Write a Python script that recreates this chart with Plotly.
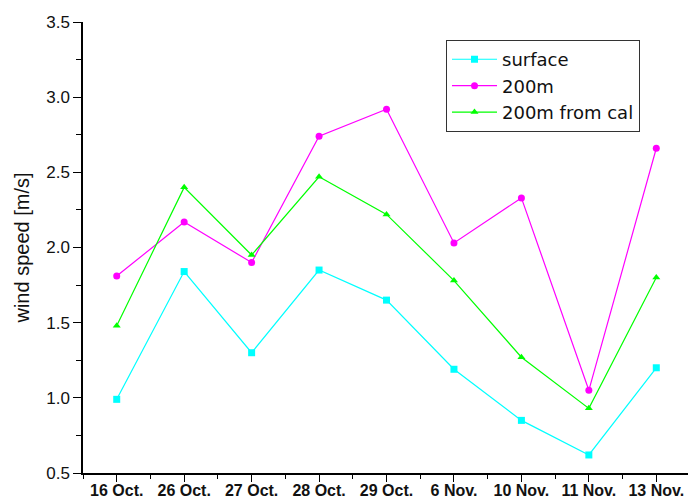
import plotly.graph_objects as go

categories = ["16 Oct.", "26 Oct.", "27 Oct.", "28 Oct.", "29 Oct.", "6 Nov.", "10 Nov.", "11 Nov.", "13 Nov."]
surface = [0.99, 1.84, 1.30, 1.85, 1.65, 1.19, 0.85, 0.62, 1.20]
m200 = [1.81, 2.17, 1.90, 2.74, 2.92, 2.03, 2.33, 1.05, 2.66]
m200_cal = [1.48, 2.40, 1.95, 2.47, 2.22, 1.78, 1.27, 0.93, 1.80]
y_ticks = [0.5, 1.0, 1.5, 2.0, 2.5, 3.0, 3.5]

xs = list(range(len(categories)))
FONT = "Liberation Sans, Arial, sans-serif"
LFONT = "DejaVu Sans, sans-serif"

fig = go.Figure()
series = [
    ("surface", surface, "#00FFFF", "square"),
    ("200m", m200, "#FF00FF", "circle"),
    ("200m from cal", m200_cal, "#00FF00", "triangle-up"),
]
for name, vals, col, sym in series:
    fig.add_trace(go.Scatter(
        x=xs, y=vals, name=name, mode="lines+markers",
        line=dict(color=col, width=1.2),
        marker=dict(color=col, symbol=sym, size=7),
    ))

fig.update_layout(
    width=688, height=502,
    margin=dict(l=83, r=0, t=22, b=29),
    paper_bgcolor="white", plot_bgcolor="white",
    font=dict(family=FONT, color="#111"),
    showlegend=True,
    legend=dict(
        x=0.6, y=0.96, xanchor="left", yanchor="top",
        font=dict(family=LFONT, size=18, color="#111"),
        bordercolor="#333", borderwidth=1, bgcolor="white",
        itemwidth=45, tracegroupgap=0,
    ),
    xaxis=dict(
        range=[-0.5, 8.47], tickvals=xs, ticktext=categories,
        showgrid=False, zeroline=False,
        showline=True, linecolor="black", linewidth=1.5,
        ticks="outside", ticklen=7, tickwidth=1.3, tickcolor="black",
        minor=dict(dtick=0.5, tick0=-0.5, ticks="outside", ticklen=4, tickwidth=1.3, tickcolor="black"),
        tickfont=dict(family=FONT, size=16, color="#111", weight="bold"),
        ticklabelstandoff=-5,
    ),
    yaxis=dict(
        range=[0.5, 3.5], tickvals=y_ticks, ticktext=[f"{v:.1f}" for v in y_ticks],
        showgrid=False, zeroline=False,
        showline=True, linecolor="black", linewidth=1.5,
        ticks="outside", ticklen=8, tickwidth=1.3, tickcolor="black",
        minor=dict(dtick=0.25, tick0=0.5, ticks="outside", ticklen=5, tickwidth=1.3, tickcolor="black"),
        tickfont=dict(family=FONT, size=17, color="#111"),
        title=dict(text="wind speed [m/s]", font=dict(family=FONT, size=20, color="#111"), standoff=11),
    ),
    xaxis2=dict(
        overlaying="x", side="top", anchor="y", range=[0, 4.98], dtick=1, tick0=0,
        showgrid=False, zeroline=False, showticklabels=False,
        showline=True, linecolor="black", linewidth=1.5,
        ticks="inside", ticklen=6, tickwidth=1.3, tickcolor="black",
        minor=dict(dtick=0.5, ticks="inside", ticklen=4, tickwidth=1.3, tickcolor="black"),
    ),
    yaxis2=dict(
        overlaying="y", side="right", anchor="x", range=[0, 5], dtick=1, tick0=0,
        showgrid=False, zeroline=False, showticklabels=False, showline=False,
        ticks="inside", ticklen=8, tickwidth=1.3, tickcolor="black",
        minor=dict(dtick=0.5, ticks="inside", ticklen=4, tickwidth=1.3, tickcolor="black"),
    ),
)

fig.write_html("out.html")
